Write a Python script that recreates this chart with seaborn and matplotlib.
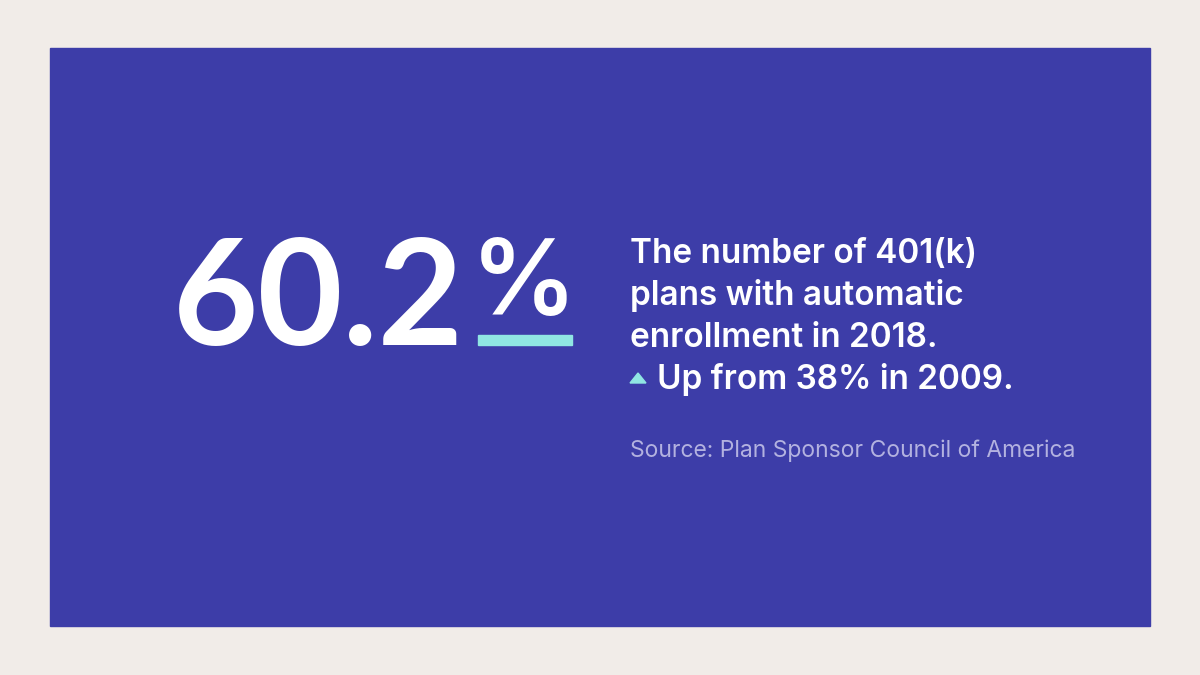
import matplotlib
matplotlib.use('Agg')
import matplotlib.pyplot as plt
import seaborn as sns
from matplotlib.patches import Rectangle, Polygon

# --- data ---
headline_value = 60.2
headline_year = 2018
previous_value = 38
previous_year = 2009
description = ["The number of 401(k)", "plans with automatic",
               f"enrollment in {headline_year}."]
change_text = f"Up from {previous_value}% in {previous_year}."
source_text = "Source: Plan Sponsor Council of America"

# --- colours ---
bg_color = '#F1ECE8'
panel_color = '#3D3DA8'
accent = '#90E6E3'
source_color = '#B3B2E0'

sns.set_theme(style='white')
plt.rcParams['font.family'] = ['Inter', 'DejaVu Sans']

fig = plt.figure(figsize=(12, 6.75), dpi=100, facecolor=bg_color)
ax = fig.add_axes([0, 0, 1, 1])
ax.set_xlim(0, 1200)
ax.set_ylim(675, 0)
ax.axis('off')

ax.add_patch(Rectangle((50, 48), 1100, 578, color=panel_color, zorder=0))

# big number (Lato has narrower figures, closer to the reference spacing)
ax.text(464, 345, f"{headline_value:.1f}", color='white', fontsize=106,
        fontweight='bold', family=['Lato', 'DejaVu Sans'],
        ha='right', va='baseline')
ax.text(524, 315, "%", color='white', fontsize=76, fontweight='semibold',
        ha='center', va='baseline')
ax.add_patch(Rectangle((478, 335), 94, 10, color=accent, zorder=2))

# description
for i, line in enumerate(description):
    ax.text(630, 263 + i * 42, line, color='white', fontsize=24,
            fontweight='semibold', ha='left', va='baseline')
ax.add_patch(Polygon([[630, 383], [646, 383], [638, 373]], closed=True,
                     color=accent, zorder=2))
ax.text(657, 389, change_text, color='white', fontsize=24,
        fontweight='semibold', ha='left', va='baseline')

ax.text(630, 457, source_text, color=source_color, fontsize=16.5,
        ha='left', va='baseline')

fig.savefig('out.png', dpi=100, facecolor=bg_color)
plt.close(fig)
